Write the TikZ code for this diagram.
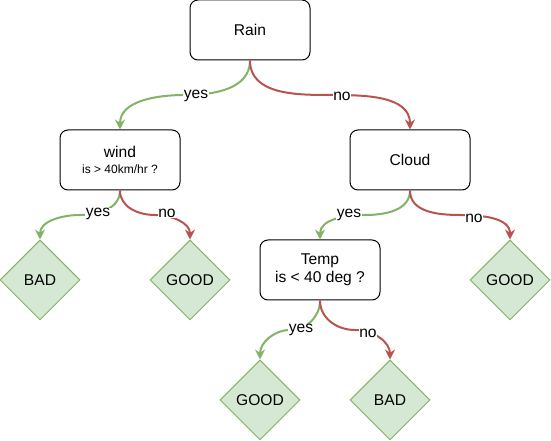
\documentclass[tikz,border=0pt]{standalone}
\usepackage{fontspec}
\setmainfont{Liberation Sans}
\usetikzlibrary{shapes.geometric,arrows.meta,calc}

\definecolor{yesgreen}{HTML}{82B366}
\definecolor{nored}{HTML}{B85450}
\definecolor{leaffill}{HTML}{D5E8D4}

\tikzset{
	question/.style={draw, rounded corners=6pt, line width=0.75pt, minimum width=90pt, minimum height=45pt, align=center, font=\fontsize{11.7}{13.5}\selectfont},
	leaf/.style={diamond, draw=yesgreen, fill=leaffill, line width=0.75pt, inner sep=0pt, minimum width=60pt, minimum height=60pt, font=\fontsize{11.7}{13.5}\selectfont},
	yesedge/.style={draw=yesgreen, line width=1.5pt, -{Stealth[length=7.5pt,width=7.5pt,inset=2.5pt]}},
	noedge/.style={draw=nored, line width=1.5pt, -{Stealth[length=7.5pt,width=7.5pt,inset=2.5pt]}},
	answer/.style={fill=white, inner sep=0.5pt, font=\fontsize{11.7}{13.5}\selectfont}
}

\begin{document}
\begin{tikzpicture}[x=0.75pt, y=-0.75pt]
\useasboundingbox (0,0) rectangle (551,441);

% questions
\node[question] (rain) at (250,30) {Rain};
\node[question] (wind) at (120,160) {wind\\[-2pt]{\fontsize{9}{10}\selectfont is > 40km/hr ?}};
\node[question] (cloud) at (410,160) {Cloud};
\node[question] (temp) at (320,270) {Temp\\is < 40 deg ?};

% answers
\node[leaf] (windbad) at (40,280) {BAD};
\node[leaf] (windgood) at (190,280) {GOOD};
\node[leaf] (cloudgood) at (510,280) {GOOD};
\node[leaf] (tempgood) at (260,400) {GOOD};
\node[leaf] (tempbad) at (390,400) {BAD};

% branches
\draw[yesedge] (rain.south) to[out=-90,in=0] ($(rain.south)!.5!(wind.north)$) coordinate (m1) to[out=180,in=90] (wind.north);
\draw[noedge] (rain.south) to[out=-90,in=180] ($(rain.south)!.5!(cloud.north)$) coordinate (m2) to[out=0,in=90] (cloud.north);
\draw[yesedge] (wind.south) to[out=-90,in=0] ($(wind.south)!.5!(windbad.north)$) coordinate (m3) to[out=180,in=90] (windbad.north);
\draw[noedge] (wind.south) to[out=-90,in=180] ($(wind.south)!.5!(windgood.north)$) coordinate (m4) to[out=0,in=90] (windgood.north);
\draw[yesedge] (cloud.south) to[out=-90,in=0] ($(cloud.south)!.5!(temp.north)$) coordinate (m5) to[out=180,in=90] (temp.north);
\draw[noedge] (cloud.south) to[out=-90,in=180] ($(cloud.south)!.5!(cloudgood.north)$) coordinate (m6) to[out=0,in=90] (cloudgood.north);
\draw[yesedge] (temp.south) to[out=-90,in=0] ($(temp.south)!.5!(tempgood.north)$) coordinate (m7) to[out=180,in=90] (tempgood.north);
\draw[noedge] (temp.south) to[out=-90,in=180] ($(temp.south)!.5!(tempbad.north)$) coordinate (m8) to[out=0,in=90] (tempbad.north);

% labels
\node[answer] at ($(m1)+(11,1)$) {yes};
\node[answer] at ($(m2)+(12,1)$) {no};
\node[answer] at ($(m3)+(18,-1)$) {yes};
\node[answer] at ($(m4)+(12,-2)$) {no};
\node[answer] at ($(m5)+(-16,0)$) {yes};
\node[answer] at ($(m6)+(14,3)$) {no};
\node[answer] at ($(m7)+(11,0)$) {yes};
\node[answer] at ($(m8)+(13,3)$) {no};
\end{tikzpicture}
\end{document}
